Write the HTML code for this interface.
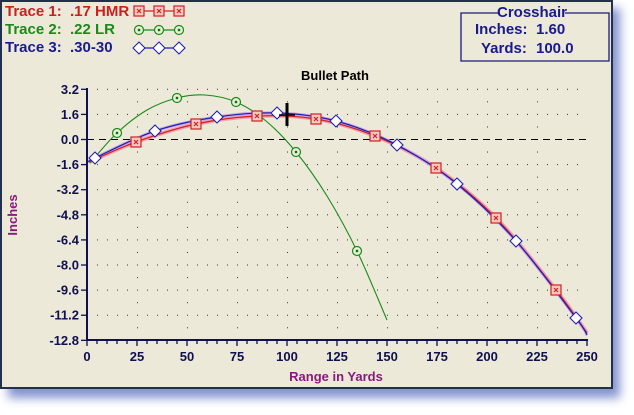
<!DOCTYPE html>
<html><head><meta charset="utf-8"><style>
body{margin:0;width:634px;height:410px;background:#fff;overflow:hidden;font-family:"Liberation Sans",Arial,sans-serif}
</style></head><body>
<svg id="s" width="634" height="410" xmlns="http://www.w3.org/2000/svg" font-family="Liberation Sans, Arial, sans-serif" font-weight="bold">
<defs><filter id="b" x="-10%" y="-10%" width="120%" height="120%"><feGaussianBlur stdDeviation="5"/></filter></defs>
<rect x="8" y="8" width="612" height="390" fill="#5a6ec0" opacity="0.75" filter="url(#b)"/>
<rect x="1" y="1" width="611" height="387" fill="#ece9d8" stroke="#22304e" stroke-width="2"/>
<g id="grid"></g>
<line x1="87" y1="139.5" x2="587" y2="139.5" stroke="#000" stroke-dasharray="7,5"/>
<g id="series"></g>
<line x1="87" y1="88" x2="87" y2="341" stroke="#101050" stroke-width="2"/>
<line x1="86" y1="340" x2="588" y2="340" stroke="#101050" stroke-width="2"/>
<g id="ticks" stroke="#101050" stroke-width="1.3"></g>
<g id="labels" fill="#101050" font-size="13"></g>
<text x="335" y="80" font-size="13" text-anchor="middle" fill="#000">Bullet Path</text>
<text x="336" y="381" font-size="13" text-anchor="middle" fill="#8a1880">Range in Yards</text>
<text transform="translate(17,215) rotate(-90)" font-size="13" text-anchor="middle" fill="#8a1880">Inches</text>
<text y="16" font-size="15" fill="#cc2020"><tspan x="5">Trace 1:</tspan><tspan x="70">.17 HMR</tspan></text>
<text y="34" font-size="15" fill="#1a8a1a"><tspan x="5">Trace 2:</tspan><tspan x="70">.22 LR</tspan></text>
<text y="52" font-size="15" fill="#1a1a90"><tspan x="5">Trace 3:</tspan><tspan x="70">.30-30</tspan></text>
<g id="leg"></g>
<path d="M500 13 H461 V61 H609 V13 H565" fill="none" stroke="#1a1a80" stroke-width="1.3"/>
<text x="532" y="17" font-size="15" text-anchor="middle" fill="#1a1a90">Crosshair</text>
<text y="34" font-size="15" fill="#1a1a90"><tspan x="475">Inches:</tspan><tspan x="536">1.60</tspan></text>
<text y="53" font-size="15" fill="#1a1a90"><tspan x="481">Yards:</tspan><tspan x="536">100.0</tspan></text>
<g stroke="#000"><line x1="287" y1="103" x2="287" y2="126" stroke-width="3"/><line x1="279" y1="115" x2="295" y2="115" stroke-width="1.5"/></g>
</svg>
<script>
var NS="http://www.w3.org/2000/svg";
function el(p,t,a){var e=document.createElementNS(NS,t);for(var k in a)e.setAttribute(k,a[k]);document.getElementById(p).appendChild(e);return e;}
function X(v){return 87+v*2}function Y(v){return 139.5-v*15.69}
for(var i=0;i<=10;i++){var yv=3.2-i*1.6;if(Math.abs(yv)<0.01)continue;var y=Y(yv);
 for(var x=97;x<587;x+=10)el("grid","rect",{x:x,y:y-0.5,width:1,height:1,fill:"#333"});}
for(var i=0;i<10;i++){var y=Y(3.2-i*1.6-0.8);for(var x=137;x<587;x+=50)el("grid","rect",{x:x,y:y-0.5,width:1,height:1,fill:"#333"});}
for(var i=0;i<=10;i++){var yv=3.2-i*1.6,y=Y(yv);el("ticks","line",{x1:81,y1:y,x2:87,y2:y});
 var t=el("labels","text",{x:79,y:y+4.5,"text-anchor":"end"});t.textContent=yv.toFixed(1).replace("-0.0","0.0");}
for(var v=0;v<=250;v+=5){var x=X(v);el("ticks","line",{x1:x,y1:340,x2:x,y2:v%25?344:346});
 if(v%25==0){var t=el("labels","text",{x:x,y:361,"text-anchor":"middle"});t.textContent=v;}}
function cr(p){var d="M"+p[0];for(var i=0;i<p.length-1;i++){var a=p[i-1]||p[i],b=p[i],c=p[i+1],e=p[i+2]||c;
 d+=" C"+(b[0]+(c[0]-a[0])/6)+","+(b[1]+(c[1]-a[1])/6)+" "+(c[0]-(e[0]-b[0])/6)+","+(c[1]-(e[1]-b[1])/6)+" "+c;}return d;}
var red=[[89,162],[136,142],[196,124],[257,116],[316,119],[375,136],[436,168],[496,218],[556,290],[587,333]];
var redM=red.slice(1,9);
var blu=[[89,162],[95,158],[155,131],[217,117],[277,113],[336,121],[397,145],[457,184],[516,241],[576,318],[587,335]];
var bluM=blu.slice(1,10);
var grn=[[90,163],[117,133],[147,110],[177,98],[205,95],[236,102],[266,121],[296,152],[327,196],[357,251],[387,320]];
var grnM=[[117,133],[177,98],[236,102],[296,152],[357,251]];
el("series","path",{d:cr(red),fill:"none",stroke:"#f0a0b0","stroke-width":4});
el("series","path",{d:cr(blu),fill:"none",stroke:"#c8a8e8","stroke-width":3});
el("series","path",{d:cr(red),fill:"none",stroke:"#d02020","stroke-width":1.2});
el("series","path",{d:cr(blu),fill:"none",stroke:"#2020b0","stroke-width":1.2});
el("series","path",{d:cr(grn),fill:"none",stroke:"#1a8a1a","stroke-width":1.1});
function sq(g,x,y){el(g,"rect",{x:x-5,y:y-5,width:10,height:10,fill:"#f6c8c0",stroke:"#d02020","stroke-width":1.2});
 el(g,"path",{d:"M"+(x-2)+","+(y-2)+"l4,4m0,-4l-4,4",stroke:"#d02020","stroke-width":1.2});}
function ci(g,x,y){el(g,"circle",{cx:x,cy:y,r:4.5,fill:"#e8f0d8",stroke:"#1a8a1a","stroke-width":1.2});el(g,"rect",{x:x-1.2,y:y-1.2,width:2.4,height:2.4,fill:"#1a6a1a"});}
function di(g,x,y){el(g,"path",{d:"M"+(x-6)+","+y+"l6,-6l6,6l-6,6z",fill:"#fff",stroke:"#2020b0","stroke-width":1.1});}
redM.forEach(p=>sq("series",p[0],p[1]));grnM.forEach(p=>ci("series",p[0],p[1]));bluM.forEach(p=>di("series",p[0],p[1]));
[[11,"#d02020",sq],[30,"#1a8a1a",ci],[48,"#2020b0",di]].forEach(function(r){
 el("leg","line",{x1:139,y1:r[0],x2:179,y2:r[0],stroke:r[1],"stroke-width":1.2});
 [139,159,179].forEach(x=>r[2]("leg",x,r[0]));});
</script>
</body></html>
